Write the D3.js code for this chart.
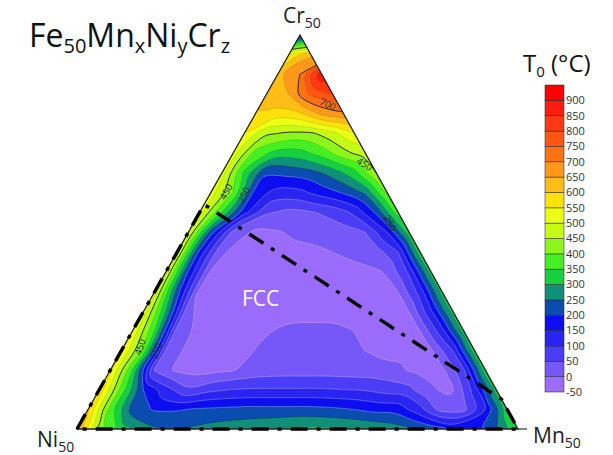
<!DOCTYPE html>
<html>
<head>
<meta charset="utf-8">
<script src="https://cdn.jsdelivr.net/npm/d3@7"></script>
<style>
  body { margin: 0; background: #fff; }
  svg { display: block; }
  text { font-family: "Open Sans", "Noto Sans", sans-serif; }
</style>
</head>
<body>
<svg id="chart" width="613" height="455"></svg>
<script>
// T0 (°C) of Fe50MnxNiyCrz sampled on a ternary grid in 2.5 at.% steps.
// Row k holds Cr = 2.5·k; its entries run Mn = 0, 2.5, … up to 50 − Cr (Ni is the rest).
const gridStep = 2.5;
const t0Grid = [
  [650, 420, 320, 270, 250, 255, 270, 280, 290, 300, 310, 310, 305, 295, 280, 265, 235, 190, 175, 240, 350],
  [610, 380, 230, 195, 195, 205, 210, 215, 215, 215, 215, 210, 200, 185, 180, 120, 30, 30, 150, 330],
  [590, 380, 200, 120, 60, 85, 100, 105, 105, 105, 105, 100, 95, 80, 65, 5, -10, 120, 320],
  [565, 350, 45, -10, -20, -10, 5, 20, 25, 25, 25, 22, 20, 10, -15, -15, 90, 330],
  [560, 380, 50, -15, -25, -20, 0, 15, 20, 20, 15, 0, -15, -20, -10, 100, 330],
  [540, 350, 30, -15, -25, -20, -5, 8, 10, 8, 0, -15, -20, 0, 130, 320],
  [530, 300, 10, -25, -30, -25, -15, -15, -15, -15, -20, -15, 0, 140, 320],
  [520, 230, -5, -25, -30, -30, -25, -20, -20, -25, -15, 0, 120, 320],
  [510, 200, 0, -20, -25, -25, -25, -20, -15, -10, 3, 110, 320],
  [510, 190, 5, -15, -15, -12, -8, 0, 10, 25, 100, 330],
  [510, 230, 40, -10, -3, 8, 15, 22, 50, 150, 330],
  [520, 350, 170, 60, 35, 45, 65, 110, 210, 380],
  [525, 400, 180, 130, 135, 170, 205, 260, 410],
  [525, 340, 205, 215, 230, 270, 330, 450],
  [525, 380, 330, 330, 370, 430, 480],
  [545, 460, 440, 440, 485, 545],
  [590, 580, 590, 660, 690],
  [635, 650, 760, 800],
  [630, 700, 890],
  [560, 640],
  [150]
];

// Contour levels and the colour of each 50 °C band, from -50 upwards.
const bandLows = [-50, 0, 50, 100, 150, 200, 250, 300, 350, 400, 450, 500, 550, 600, 650, 700, 750, 800, 850, 900];
const bandColors = [
  "#9b6bfb", "#7657f7", "#4b3df5", "#2a24f3", "#0c0ef0",
  "#0a4cb0", "#10907a", "#18cf42", "#46ee24", "#8ef51c",
  "#c6fb16", "#eeff16", "#ffe20c", "#ffbd18", "#ff981a",
  "#ff7214", "#ff5614", "#ff3a12", "#fb1e0c", "#ff0000"
];
const legendTicks = [900, 850, 800, 750, 700, 650, 600, 550, 500, 450, 400, 350, 300, 250, 200, 150, 100, 50, 0, -50];
const darkLevels = [450, 700];
const midLevels = [250];

// Inline labels on the isotherms: text, position (Mn, Cr in at.%) and rotation.
const contourLabels = [
  { text: "700", mn: 7.6, cr: 41.2, angle: 25 },
  { text: "450", mn: 15.6, cr: 33.6, angle: 32 },
  { text: "450", mn: 1.7, cr: 30.1, angle: -62 },
  { text: "250", mn: 3.9, cr: 29.7, angle: -65 },
  { text: "450", mn: 1.9, cr: 10.4, angle: -72 },
  { text: "250", mn: 4.0, cr: 9.9, angle: -72 },
  { text: "250", mn: 22.3, cr: 26.1, angle: 62 }
];

// FCC single-phase boundary, vertices as [Mn, Cr] in at.%.
const fccBoundary = [[0, 0], [0, 28.5], [46.2, 3.8], [50, 0], [0, 0]];

const svg = d3.select("#chart");

// Ternary placement: Ni50 bottom-left, Mn50 bottom-right, Cr50 at the apex.
const xFromMn = d3.scaleLinear().domain([0, 50]).range([77, 518]);
const xFromCr = d3.scaleLinear().domain([0, 50]).range([0, 223]);
const yFromCr = d3.scaleLinear().domain([0, 50]).range([429, 35]);
const tern = (mn, cr) => [xFromMn(mn) + xFromCr(cr), yFromCr(cr)];

const trianglePts = [tern(0, 0), tern(50, 0), tern(0, 50)];

svg.append("defs").append("clipPath").attr("id", "tri")
  .append("path").attr("d", "M" + trianglePts.join("L") + "Z");

// Square grid for d3.contours: cells past the Mn–Cr edge repeat the edge value (clipped away).
const n = t0Grid.length;
const values = new Array(n * n);
for (let k = 0; k < n; k++) {
  const row = t0Grid[k];
  for (let i = 0; i < n; i++) values[k * n + i] = row[Math.min(i, row.length - 1)];
}
const levels = bandLows.slice(1);
const contours = d3.contours().size([n, n]).thresholds(levels)(values);

const ringLine = d3.line().curve(d3.curveCatmullRomClosed.alpha(0.5));
function ringPath(ring) {
  const pts = ring.slice(0, -1).map(([gx, gy]) => tern((gx - 0.5) * gridStep, (gy - 0.5) * gridStep));
  return ringLine(pts);
}
const contourPath = c => c.coordinates.map(poly => poly.map(ringPath).join("")).join("");

const field = svg.append("g").attr("clip-path", "url(#tri)");
field.append("path")
  .attr("d", "M" + trianglePts.join("L") + "Z")
  .attr("fill", bandColors[0]);

field.selectAll("path.band")
  .data(contours)
  .join("path")
  .attr("class", "band")
  .attr("d", contourPath)
  .attr("fill", c => bandColors[bandLows.indexOf(c.value)])
  .attr("fill-rule", "evenodd");

// Isotherm lines: labelled ones dark, the rest faint.
field.selectAll("path.iso")
  .data(contours)
  .join("path")
  .attr("class", "iso")
  .attr("d", contourPath)
  .attr("fill", "none")
  .attr("stroke", c => darkLevels.includes(c.value) ? "#1a1a1a"
    : midLevels.includes(c.value) ? "rgba(20,40,40,0.55)"
    : c.value <= 200 ? "rgba(225,220,255,0.55)" : "rgba(0,60,0,0.22)")
  .attr("stroke-width", c => darkLevels.includes(c.value) ? 0.9 : 0.6);

// Triangle frame.
svg.append("path")
  .attr("d", "M" + trianglePts.join("L") + "Z")
  .attr("fill", "none")
  .attr("stroke", "#222")
  .attr("stroke-width", 1.3)
  .attr("stroke-linejoin", "miter");
svg.append("line")
  .attr("x1", tern(50, 0)[0]).attr("y1", tern(50, 0)[1])
  .attr("x2", tern(50, 0)[0] + 9).attr("y2", tern(50, 0)[1])
  .attr("stroke", "#333").attr("stroke-width", 1.2);

// Isotherm labels.
svg.append("g").selectAll("text")
  .data(contourLabels)
  .join("text")
  .attr("transform", d => {
    const [x, y] = tern(d.mn, d.cr);
    return `translate(${x},${y}) rotate(${d.angle})`;
  })
  .attr("text-anchor", "middle")
  .attr("dy", "0.35em")
  .attr("font-size", 9.5)
  .attr("font-family", "Liberation Sans, sans-serif")
  .attr("fill", "#1f2a1f")
  .text(d => d.text);

// FCC region boundary (dash-dot).
svg.append("path")
  .attr("d", d3.line()(fccBoundary.map(p => tern(p[0], p[1]))))
  .attr("fill", "none")
  .attr("stroke", "#000")
  .attr("stroke-width", 3.4)
  .attr("stroke-dasharray", "17,9,4,9")
  .attr("stroke-linejoin", "round");

svg.append("text")
  .attr("x", 242).attr("y", 306)
  .attr("font-size", 21)
  .attr("fill", "#fff")
  .text("FCC");

// Title.
const title = svg.append("text").attr("x", 29).attr("y", 47).attr("font-size", 32).attr("fill", "#111");
[["Fe", false], ["50", true], ["Mn", false], ["x", true], ["Ni", false], ["y", true], ["Cr", false], ["z", true]]
  .forEach(([s, sub], idx, arr) => {
    const prevSub = idx > 0 && arr[idx - 1][1];
    title.append("tspan")
      .attr("font-size", sub ? 20 : 32)
      .attr("dy", sub ? 6 : (prevSub ? -6 : 0))
      .text(s);
  });

// Corner labels.
function cornerLabel(el, sym, x, y) {
  const t = svg.append("text").attr("x", x).attr("y", y).attr("font-size", 21).attr("fill", "#222");
  t.append("tspan").text(sym);
  t.append("tspan").attr("font-size", 14).attr("dy", 5).text(el);
}
cornerLabel("50", "Cr", 283, 23);
cornerLabel("50", "Ni", 37, 447);
cornerLabel("50", "Mn", 533, 443);

// Colour bar.
const barY = d3.scaleLinear().domain([-50, 950]).range([392, 85]);
const bar = svg.append("g");
bar.selectAll("rect")
  .data(bandLows)
  .join("rect")
  .attr("x", 545)
  .attr("width", 19)
  .attr("y", d => barY(d + 50))
  .attr("height", d => barY(d) - barY(d + 50))
  .attr("fill", (d, i) => bandColors[i])
  .attr("stroke", "rgba(40,40,40,0.75)")
  .attr("stroke-width", 0.7);

bar.selectAll("text")
  .data(legendTicks)
  .join("text")
  .attr("x", 566)
  .attr("y", d => barY(d))
  .attr("dy", "0.35em")
  .attr("font-size", 11)
  .attr("font-family", "Liberation Sans, sans-serif")
  .attr("fill", "#333")
  .text(d => d);

const legendTitle = svg.append("text").attr("x", 523).attr("y", 72).attr("font-size", 24).attr("fill", "#111");
legendTitle.append("tspan").text("T");
legendTitle.append("tspan").attr("font-size", 15).attr("dy", 5).text("0");
legendTitle.append("tspan").attr("dy", -5).text(" (°C)");
</script>
</body>
</html>
